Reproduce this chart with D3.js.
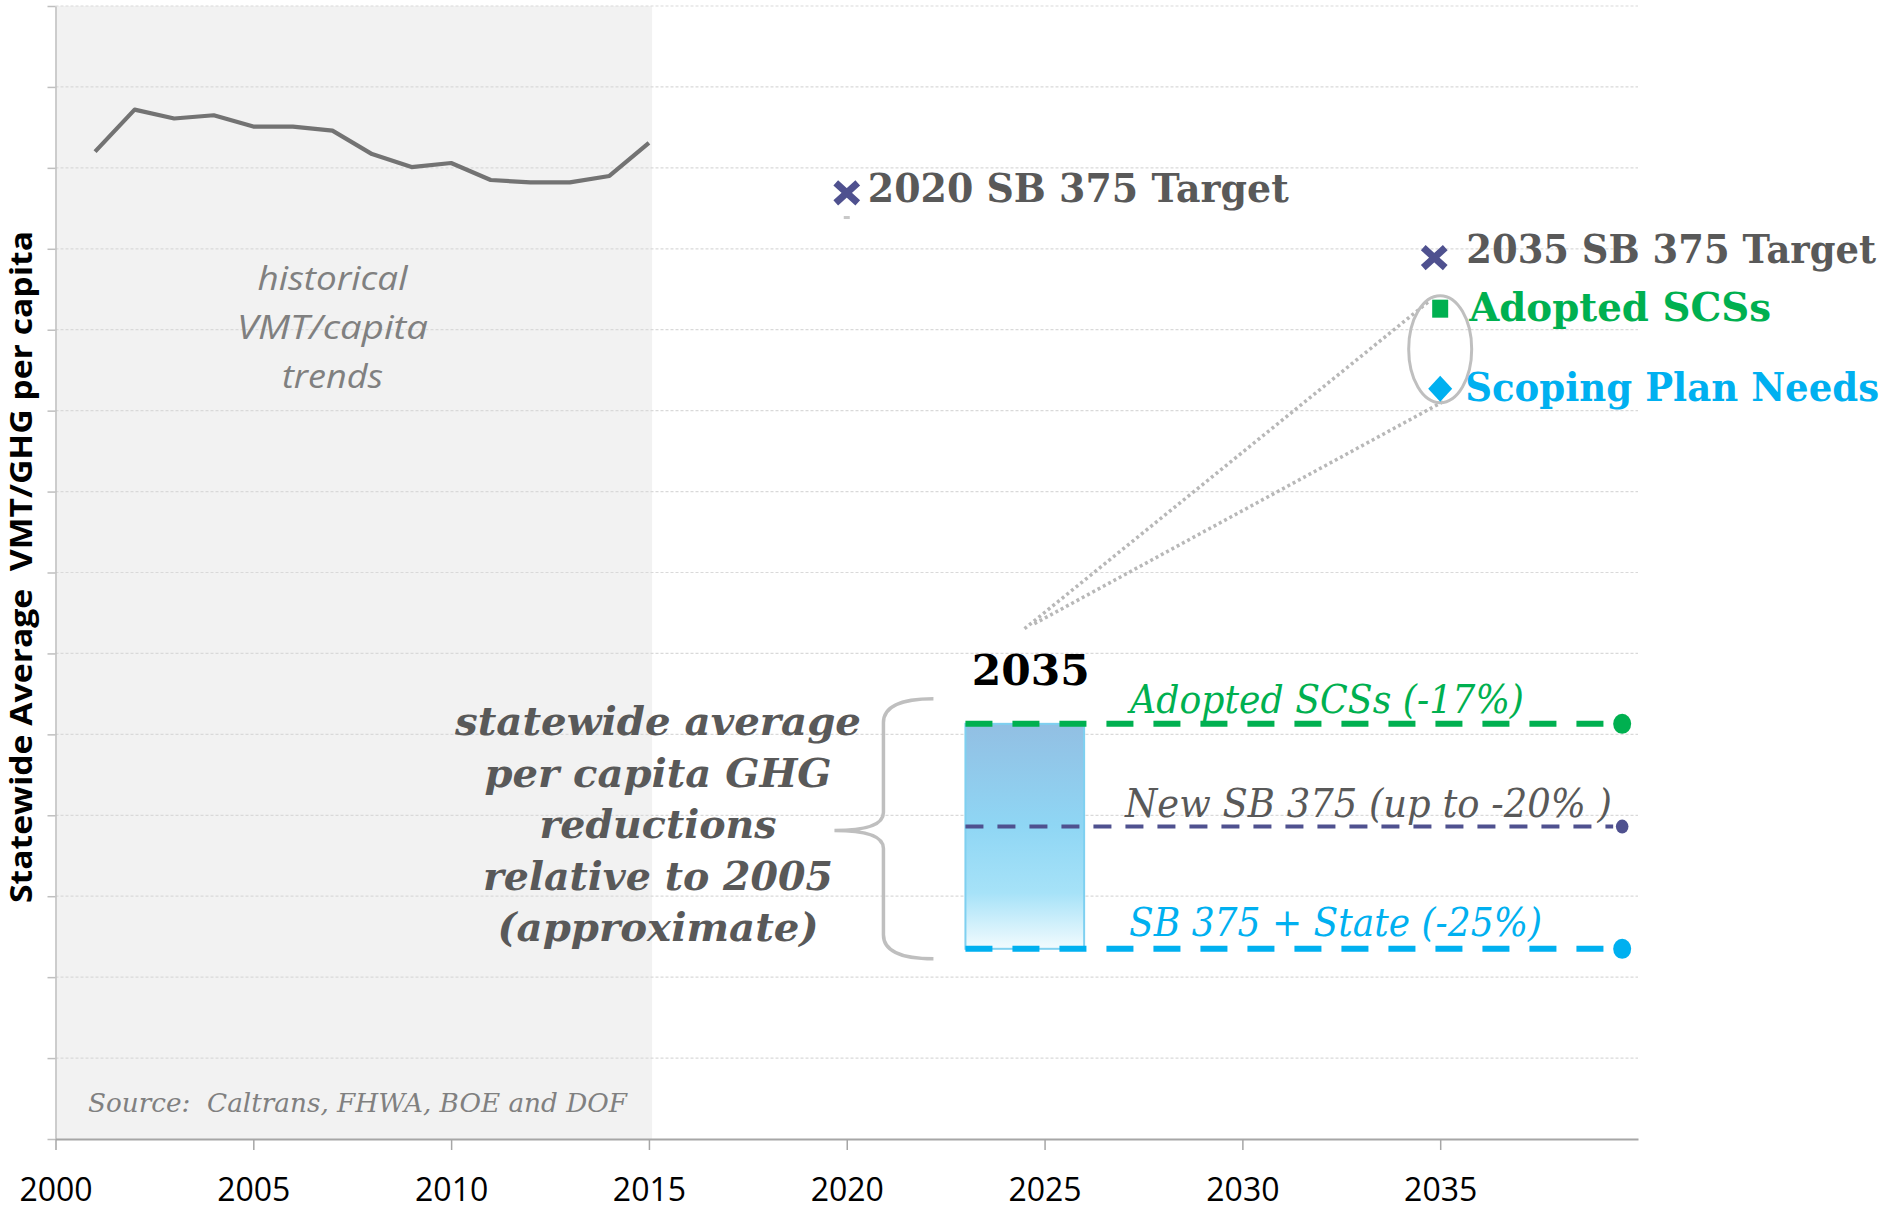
<!DOCTYPE html>
<html><head><meta charset="utf-8">
<script src="https://cdn.jsdelivr.net/npm/d3@7"></script>
<style>html,body{margin:0;padding:0;background:#fff;overflow:hidden}</style>
</head><body>
<svg id="chart" width="1893" height="1210"></svg>
<script>
// ---------- DATA ----------
const years = [2001,2002,2003,2004,2005,2006,2007,2008,2009,2010,2011,2012,2013,2014,2015];
const vmtPerCapita = [12.20,12.72,12.61,12.65,12.51,12.51,12.46,12.17,12.01,12.06,11.85,11.82,11.82,11.90,12.31];
const xTickYears = [2000,2005,2010,2015,2020,2025,2030,2035];
const yGridValues = [0,1,2,3,4,5,6,7,8,9,10,11,12,13,14];

const targetLabels = ["2020 SB 375 Target","2035 SB 375 Target","Adopted SCSs","Scoping Plan Needs"];
const targetYears  = [2020, 2034.85, 2035, 2035];
const targetValues = [11.69, 10.89, 10.26, 9.27];
const targetSymbols = ["x","x","square","diamond"];
const targetColors = ["#4f518f","#4f518f","#00b050","#00b0f0"];
const targetTextColors = ["#595959","#595959","#00b050","#00b0f0"];

const scenarioLabels = ["Adopted SCSs (-17%)","New SB 375 (up to -20% )","SB 375 + State (-25%)"];
const scenarioValues = [5.13, 3.86, 2.35];
const scenarioColors = ["#00b050","#4f518f","#00b0f0"];
const rangeYears = [2023, 2026];
const lineEndYear = 2039.6;

const annotationLines = ["statewide average","per capita GHG","reductions","relative to 2005","(approximate)"];
const historicalLines = ["historical","VMT/capita","trends"];
const sourceText = "Source:  Caltrans, FHWA, BOE and DOF";
const yAxisTitle = "Statewide Average  VMT/GHG per capita";

// ---------- SETUP ----------
const svg = d3.select("#chart");
const x = d3.scaleLinear().domain([2000, 2040]).range([55.5, 1638]);
const y = d3.scaleLinear().domain([0, 14]).range([1139, 6]);

const defs = svg.append("defs");
const grad = defs.append("linearGradient").attr("id","barGrad").attr("x1",0).attr("y1",0).attr("x2",0).attr("y2",1);
[["0%","#92bfe3"],["45%","#8fd6f4"],["75%","#a6e2f8"],["100%","#f2fbfe"]].forEach(s=>
  grad.append("stop").attr("offset",s[0]).attr("stop-color",s[1]));

// shaded historical region
svg.append("rect")
  .attr("x", x(2000)).attr("y", y(14))
  .attr("width", x(2015.08)-x(2000)).attr("height", y(0)-y(14))
  .attr("fill","#f2f2f2");

// gridlines
svg.append("g").selectAll("line").data(yGridValues.filter(v=>v>0)).join("line")
  .attr("x1", x(2000)).attr("x2", x(2040))
  .attr("y1", d=>y(d)).attr("y2", d=>y(d))
  .attr("stroke","#d9d9d9").attr("stroke-width",1.2).attr("stroke-dasharray","3,2");

// y axis
const gy = svg.append("g").attr("transform",`translate(${x(2000)},0)`)
  .call(d3.axisLeft(y).tickValues(yGridValues).tickSize(8).tickSizeOuter(0).tickFormat(""));
gy.select(".domain").attr("stroke","#bfbfbf").attr("stroke-width",1.5);
gy.selectAll(".tick line").attr("stroke","#bfbfbf").attr("stroke-width",1.5);

// x axis
const gx = svg.append("g").attr("transform",`translate(0,${y(0)})`)
  .call(d3.axisBottom(x).tickValues(xTickYears).tickSize(11).tickSizeOuter(0).tickFormat(d3.format("d")));
gx.select(".domain").attr("stroke","#a6a6a6").attr("stroke-width",2);
gx.selectAll(".tick line").attr("stroke","#a6a6a6").attr("stroke-width",1.5);
gx.selectAll(".tick text").attr("y",62).attr("dy",0)
  .attr("font-family","'Open Sans', sans-serif").attr("font-size",32).attr("fill","#000");

// historical line
svg.append("path")
  .datum(years.map((yr,i)=>[yr, vmtPerCapita[i]]))
  .attr("fill","none").attr("stroke","#737373").attr("stroke-width",4.2).attr("stroke-linejoin","round")
  .attr("d", d3.line().x(d=>x(d[0])).y(d=>y(d[1])));

// historical text
svg.append("g").selectAll("text").data(historicalLines).join("text")
  .attr("x", x(2007)).attr("y",(d,i)=>290+i*49)
  .attr("text-anchor","middle")
  .attr("font-family","'Open Sans', sans-serif").attr("font-style","italic").attr("font-size",32)
  .attr("fill","#808080")
  .attr("textLength",(d,i)=>[150,191,101][i]).attr("lengthAdjust","spacingAndGlyphs")
  .text(d=>d);

// source text
svg.append("text").attr("x",88).attr("y",1112)
  .style("white-space","pre")
  .attr("font-family","'DejaVu Serif', serif").attr("font-style","italic").attr("font-size",26)
  .attr("fill","#808080").attr("textLength",539).attr("lengthAdjust","spacingAndGlyphs")
  .text(sourceText);

// y axis title
svg.append("text").attr("transform",`translate(32,567) rotate(-90)`)
  .style("white-space","pre")
  .attr("text-anchor","middle")
  .attr("font-family","'Open Sans', sans-serif").attr("font-weight","bold").attr("font-size",31)
  .attr("fill","#000").attr("textLength",672).attr("lengthAdjust","spacingAndGlyphs")
  .text(yAxisTitle);

// connector dotted lines (from zoom ellipse to 2035 bar)
const connectors = [[[2034.69,10.34],[2024.48,6.30]],[[2035.07,9.11],[2024.68,6.35]]];
svg.append("g").selectAll("line").data(connectors).join("line")
  .attr("x1",d=>x(d[0][0])).attr("y1",d=>y(d[0][1]))
  .attr("x2",d=>x(d[1][0])).attr("y2",d=>y(d[1][1]))
  .attr("stroke","#b8b8b8").attr("stroke-width",3.5).attr("stroke-dasharray","3,3");

// ellipse
svg.append("ellipse").attr("cx",x(2035)).attr("cy",y(9.76)).attr("rx",31.5).attr("ry",53.5)
  .attr("fill","none").attr("stroke","#bfbfbf").attr("stroke-width",3);

// small grey point under 2020 target
svg.append("rect").attr("x",x(2020)-3).attr("y",y(11.38)-2).attr("width",6).attr("height",3).attr("fill","#c8c8c8");

// target markers
const tg = svg.append("g");
targetValues.forEach((v,i)=>{
  const cx = x(targetYears[i]), cy = y(v), c = targetColors[i];
  if (targetSymbols[i]==="x") {
    tg.append("path").attr("d",`M${cx-11},${cy-10}L${cx+11},${cy+10}M${cx-11},${cy+10}L${cx+11},${cy-10}`)
      .attr("stroke",c).attr("stroke-width",7);
  } else if (targetSymbols[i]==="square") {
    tg.append("rect").attr("x",cx-8).attr("y",cy-9).attr("width",16).attr("height",18).attr("fill",c);
  } else {
    tg.append("path").attr("d",`M${cx},${cy-13}L${cx+12},${cy}L${cx},${cy+13}L${cx-12},${cy}Z`).attr("fill",c);
  }
});
// labels condensed horizontally to the widths seen in the chart
const targetLayout = [{dx:21,dy:9,w:421},{dx:32,dy:5,w:410},{dx:29,dy:12,w:302},{dx:25,dy:12,w:414}];
svg.append("g").selectAll("text").data(targetLabels).join("text")
  .attr("x",0).attr("y",0)
  .attr("font-family","'DejaVu Serif', serif").attr("font-weight","bold").attr("font-size",40)
  .attr("fill",(d,i)=>targetTextColors[i])
  .text(d=>d)
  .each(function(d,i){
    const nat = this.getComputedTextLength();
    const sx = targetLayout[i].w / nat;
    d3.select(this).attr("transform",
      `translate(${x(targetYears[i])+targetLayout[i].dx},${y(targetValues[i])+targetLayout[i].dy}) scale(${sx},1)`);
  });

// 2035 range bar
const barTop = d3.max(scenarioValues), barBot = d3.min(scenarioValues);
svg.append("rect")
  .attr("x",x(rangeYears[0])).attr("y",y(barTop))
  .attr("width",x(rangeYears[1])-x(rangeYears[0])).attr("height",y(barBot)-y(barTop))
  .attr("fill","url(#barGrad)").attr("stroke","#7fd0f0").attr("stroke-width",2);

svg.append("text").attr("x",(x(rangeYears[0])+x(rangeYears[1]))/2+6).attr("y",685)
  .attr("text-anchor","middle")
  .attr("font-family","'DejaVu Serif', serif").attr("font-weight","bold").attr("font-size",42)
  .attr("fill","#000").attr("textLength",118).attr("lengthAdjust","spacingAndGlyphs")
  .text("2035");

// scenario dashed lines + end dots
const dashStyles = [{w:6,dash:"27,20",r:10},{w:4,dash:"18,14",r:7},{w:6,dash:"27,20",r:10}];
scenarioValues.forEach((v,i)=>{
  svg.append("line").attr("x1",x(rangeYears[0])).attr("x2",x(lineEndYear)-9)
    .attr("y1",y(v)).attr("y2",y(v))
    .attr("stroke",scenarioColors[i]).attr("stroke-width",dashStyles[i].w)
    .attr("stroke-dasharray",dashStyles[i].dash);
  svg.append("ellipse").attr("cx",x(lineEndYear)).attr("cy",y(v))
    .attr("rx",dashStyles[i].r*0.9).attr("ry",dashStyles[i].r)
    .attr("fill",scenarioColors[i]);
});
const scenarioLabelLayout = [{x:1130,dy:-11,w:394,c:"#00b050"},{x:1125,dy:-10,w:487,c:"#595959"},{x:1129,dy:-13,w:413,c:"#00b0f0"}];
svg.append("g").selectAll("text").data(scenarioLabels).join("text")
  .attr("x",(d,i)=>scenarioLabelLayout[i].x)
  .attr("y",(d,i)=>y(scenarioValues[i])+scenarioLabelLayout[i].dy)
  .attr("font-family","'DejaVu Serif', serif").attr("font-style","italic").attr("font-size",40)
  .attr("fill",(d,i)=>scenarioLabelLayout[i].c)
  .attr("textLength",(d,i)=>scenarioLabelLayout[i].w).attr("lengthAdjust","spacingAndGlyphs")
  .text(d=>d);

// brace
const bx = x(rangeYears[0]) - 82, bEnd = x(rangeYears[0]) - 32;
const bTop = y(barTop) - 25, bBot = y(barBot) + 10, bMid = y(scenarioValues[1]) + 4, bTip = bx - 49;
svg.append("path")
  .attr("d",`M${bEnd},${bTop} Q${bx},${bTop} ${bx},${bTop+24} L${bx},${bMid-18} Q${bx},${bMid} ${bTip},${bMid} Q${bx},${bMid} ${bx},${bMid+18} L${bx},${bBot-24} Q${bx},${bBot} ${bEnd},${bBot}`)
  .attr("fill","none").attr("stroke","#bfbfbf").attr("stroke-width",3.5);

// left annotation
svg.append("g").selectAll("text").data(annotationLines).join("text")
  .attr("x",658).attr("y",(d,i)=>735+i*51.5)
  .attr("text-anchor","middle")
  .attr("font-family","'DejaVu Serif', serif").attr("font-weight","bold").attr("font-style","italic").attr("font-size",40)
  .attr("fill","#595959")
  .attr("textLength",(d,i)=>[406,347,237,350,321][i]).attr("lengthAdjust","spacingAndGlyphs")
  .text(d=>d);
</script>
</body></html>
